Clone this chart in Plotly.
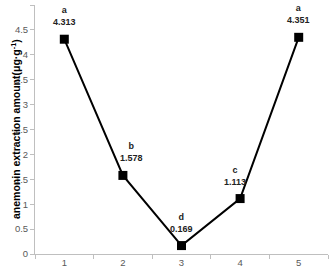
import plotly.graph_objects as go

categories = ["1", "2", "3", "4", "5"]
values = [4.313, 1.578, 0.169, 1.113, 4.351]
letters = ["a", "b", "d", "c", "a"]
label_dx = [0, 9, 0, -5, 0]
y_title = "anemonin extraction amount(μg·g<sup>-1</sup>)"

fig = go.Figure()
fig.add_trace(go.Scatter(
    x=categories, y=values, mode="lines+markers",
    line=dict(color="black", width=2),
    marker=dict(symbol="square", size=9, color="black"),
    showlegend=False, hoverinfo="skip",
))

for i, (v, l, dx) in enumerate(zip(values, letters, label_dx)):
    fig.add_annotation(
        x=i, y=v, xref="x", yref="y",
        text=f"<b>{l}</b><br><b>{v:.3f}</b>",
        showarrow=False, yanchor="bottom", yshift=10, xshift=dx,
        font=dict(family="Liberation Sans, Arial", size=9, color="#222222"),
        align="center",
    )

fig.add_annotation(
    x=0, y=0.5, xref="paper", yref="paper", xshift=-28,
    text=f"<b>{y_title}</b>", textangle=-90, showarrow=False,
    font=dict(family="Liberation Sans, Arial", size=10.5, color="black"),
)

fig.update_layout(
    width=331, height=275,
    margin=dict(l=35, r=3, t=5, b=21),
    paper_bgcolor="white", plot_bgcolor="white",
    font=dict(family="Liberation Sans, Arial", size=10, color="#595959"),
    xaxis=dict(
        type="category", range=[-0.5, 4.5], tickson="boundaries",
        ticks="outside", ticklen=4, tickcolor="#bfbfbf",
        showline=True, linecolor="#bfbfbf", linewidth=1,
        showgrid=False, zeroline=False,
        tickfont=dict(size=9.5, color="#595959"),
    ),
    yaxis=dict(
        range=[0, 5], dtick=0.5, tick0=0,
        ticks="outside", ticklen=4, tickcolor="#bfbfbf",
        showline=True, linecolor="#bfbfbf", linewidth=1,
        showgrid=False, zeroline=False,
        tickfont=dict(size=9.5, color="#595959"),
    ),
)

fig.write_html("out.html")
